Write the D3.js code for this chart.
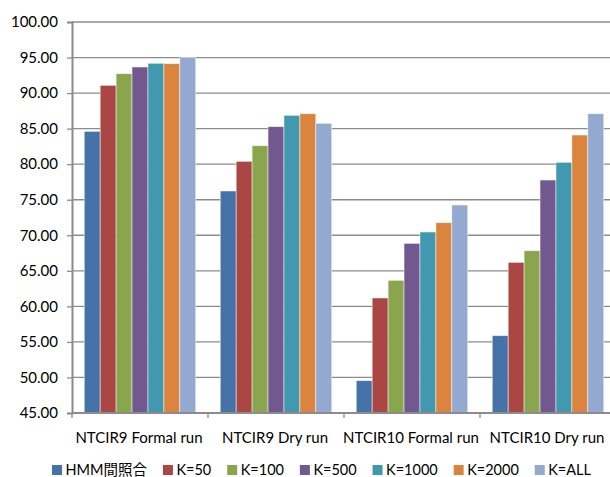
<!DOCTYPE html>
<html><head><meta charset="utf-8">
<script src="https://cdn.jsdelivr.net/npm/d3@7"></script>
<style>
html,body{margin:0;padding:0;background:#fff;overflow:hidden}
text{font-family:Lato,"Noto Sans CJK JP",sans-serif;fill:#000}
</style></head><body>
<svg id="c" width="610" height="477"></svg>
<script>
const categories = ["NTCIR9 Formal run","NTCIR9 Dry run","NTCIR10 Formal run","NTCIR10 Dry run"];
const seriesNames = ["HMM間照合","K=50","K=100","K=500","K=1000","K=2000","K=ALL"];
const seriesColors = ["#4572A7","#AA4643","#89A54E","#71588F","#4198AF","#DB843D","#93A9CF"];
const hmm   = [84.62, 76.23, 49.55, 55.88];
const k50   = [91.09, 80.40, 61.18, 66.19];
const k100  = [92.73, 82.60, 63.66, 67.83];
const k500  = [93.67, 85.28, 68.86, 77.77];
const k1000 = [94.19, 86.87, 70.46, 80.26];
const k2000 = [94.14, 87.10, 71.77, 84.10];
const kAll  = [95.03, 85.75, 74.26, 87.10];
const yTicks = [45,50,55,60,65,70,75,80,85,90,95,100];

(function(){
const series = [hmm,k50,k100,k500,k1000,k2000,kAll];
const svg = d3.select("#c");
const mL = 72, mT = 22, mB = 413, mR = 616;

const x0 = d3.scaleBand().domain(categories).range([mL,mR]).paddingInner(0).paddingOuter(0);
const x1 = d3.scaleBand().domain(d3.range(seriesNames.length)).range([0,x0.bandwidth()]).paddingOuter(0.77).paddingInner(0);
const y = d3.scaleLinear().domain([45,100]).range([mB,mT]);

// gridlines
svg.append("g").selectAll("line").data(yTicks.filter(d=>d>45)).join("line")
  .attr("x1",mL).attr("x2",mR).attr("y1",d=>y(d)).attr("y2",d=>y(d))
  .attr("stroke","#8c8c8c").attr("stroke-width",1.3);

// bars
const g = svg.append("g");
categories.forEach((c,ci)=>{
  series.forEach((s,si)=>{
    g.append("rect")
      .attr("x",x0(c)+x1(si)).attr("width",x1.bandwidth())
      .attr("y",y(s[ci])).attr("height",mB-y(s[ci]))
      .attr("fill",seriesColors[si]).attr("stroke","#ffffff").attr("stroke-opacity",0.6).attr("stroke-width",0.8);
  });
});

// y axis
const yAxis = d3.axisLeft(y).tickValues(yTicks).tickFormat(d3.format(".2f")).tickSizeOuter(0).tickSize(5).tickPadding(9);
const ya = svg.append("g").attr("transform",`translate(${mL},0)`).call(yAxis);
ya.select(".domain").attr("stroke","#8c8c8c").attr("stroke-width",2);
ya.selectAll(".tick line").attr("stroke","#8c8c8c").attr("stroke-width",1.3);
ya.selectAll("text").style("font-size","15px").attr("fill","#000");

// x axis
const xa = svg.append("g").attr("transform",`translate(0,${mB})`);
xa.append("line").attr("x1",mL).attr("x2",mR).attr("y1",0).attr("y2",0).attr("stroke","#8c8c8c").attr("stroke-width",2);
const bounds = categories.map(c=>x0(c)).concat([mR]);
xa.selectAll("line.t").data(bounds).join("line").attr("class","t")
  .attr("x1",d=>d).attr("x2",d=>d).attr("y1",0).attr("y2",5).attr("stroke","#8c8c8c").attr("stroke-width",1.3);
xa.selectAll("text").data(categories).join("text")
  .attr("x",d=>x0(d)+x0.bandwidth()/2-1).attr("y",30).attr("text-anchor","middle")
  .style("font-size","15px").text(d=>d);

// legend
const lgX0 = 52, lgX1 = 591;
const lg = svg.append("g").attr("transform",`translate(${lgX0},475)`);
const items = seriesNames.map((n,i)=>{
  const it = lg.append("g");
  it.append("rect").attr("x",0).attr("y",-10).attr("width",10).attr("height",10).attr("fill",seriesColors[i]);
  const t = it.append("text").attr("x",13.5).attr("y",0).style("font-size","14.5px").text(n);
  return {it, w: 13.5 + t.node().getComputedTextLength()};
});
const total = d3.sum(items, d=>d.w);
const gap = (lgX1 - lgX0 - total)/(items.length-1);
let cx = 0;
items.forEach(d=>{ d.it.attr("transform",`translate(${cx},0)`); cx += d.w + gap; });
})();
</script>
</body></html>
